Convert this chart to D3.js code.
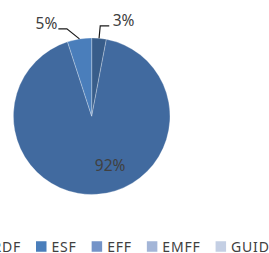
<!DOCTYPE html>
<html>
<head>
<meta charset="utf-8">
<script src="https://cdn.jsdelivr.net/npm/d3@7"></script>
<style>
  html, body { margin: 0; padding: 0; background: #fff; overflow: hidden; }
  svg { display: block; }
  text { font-family: "Noto Sans", sans-serif; fill: #404040; }
</style>
</head>
<body>
<svg></svg>
<script>
// funds, in pie order (first one starts at 12 o'clock, clockwise)
const categories = ['CF', 'ERDF', 'ESF', 'EFF', 'EMFF', 'GUIDANCE'];
const shares = [3, 92, 5, 0, 0, 0];
const colours = ['#385d8a', '#416a9f', '#4a7ebb', '#7393c8', '#a3b5d7', '#c4cfe4'];

const width = 269;
const height = 253;
const cx = 91.7;
const cy = 116.2;
const rad = 78.3;

const svg = d3.select('svg').attr('width', width).attr('height', height);

const data = categories.map((name, i) => ({ name, value: shares[i] }));
const colour = d3.scaleOrdinal().domain(categories).range(colours);

const pie = d3.pie().sort(null).value((d) => d.value);
const arcs = pie(data);
const arc = d3.arc().innerRadius(0).outerRadius(rad);

const g = svg.append('g').attr('transform', `translate(${cx},${cy})`);

g.selectAll('path')
  .data(arcs.filter((a) => a.data.value > 0))
  .join('path')
  .attr('d', arc)
  .attr('fill', (a) => colour(a.data.name))
  .attr('stroke', 'rgba(255,255,255,0.35)')
  .attr('stroke-width', 0.8);

const total = d3.sum(shares);
const pct = (a) => `${Math.round((a.data.value / total) * 100)}%`;
const polar = (ang, r) => [Math.sin(ang) * r, -Math.cos(ang) * r];

// big slice: label inside
const inside = arcs.filter((a) => a.data.value / total > 0.5);
g.selectAll('text.in')
  .data(inside)
  .join('text')
  .attr('class', 'in')
  .attr('x', (a) => arc.centroid(a)[0] * 1.26)
  .attr('y', (a) => arc.centroid(a)[1] * 1.26)
  .attr('dy', '0.35em')
  .attr('font-size', 15.5)
  .text(pct);

// small slices: label outside with a leader line
const outside = arcs.filter((a) => a.data.value > 0 && a.data.value / total <= 0.5);
outside.forEach((a) => {
  const mid = (a.startAngle + a.endAngle) / 2;
  const left = mid > Math.PI;
  const bend = left ? mid - 0.12 : mid;
  const p0 = polar(mid, rad);
  const p1 = polar(bend, rad + 12.5);
  const p2 = [p1[0] + (left ? -8.5 : 9), p1[1]];
  g.append('path')
    .attr('d', d3.line()([p0, p1, p2]))
    .attr('fill', 'none')
    .attr('stroke', '#1a1a1a')
    .attr('stroke-width', 1.2);
  g.append('text')
    .attr('x', p2[0] + (left ? -1 : 3.5))
    .attr('y', p2[1] + 0.5)
    .attr('text-anchor', left ? 'end' : 'start')
    .attr('font-size', 15.5)
    .text(pct(a));
});

// legend along the bottom, wider than the window (cut off both sides)
const legend = svg.append('g');
const items = legend.selectAll('g')
  .data(categories)
  .join('g');
items.append('rect')
  .attr('width', 10.5)
  .attr('height', 10.5)
  .attr('y', -5.25)
  .attr('fill', (d) => colour(d));
items.append('text')
  .attr('x', 15.5)
  .attr('y', 5)
  .attr('font-size', 14)
  .attr('letter-spacing', 0.8)
  .text((d) => d);

let xpos = 0;
const starts = [];
items.each(function () {
  starts.push(xpos);
  const w = d3.select(this).select('text').node().getComputedTextLength();
  xpos += 15.5 + w + 15;
});
const shift = 36 - starts[categories.indexOf('ESF')];
items.attr('transform', (d, i) => `translate(${starts[i] + shift},246.5)`);
</script>
</body>
</html>
